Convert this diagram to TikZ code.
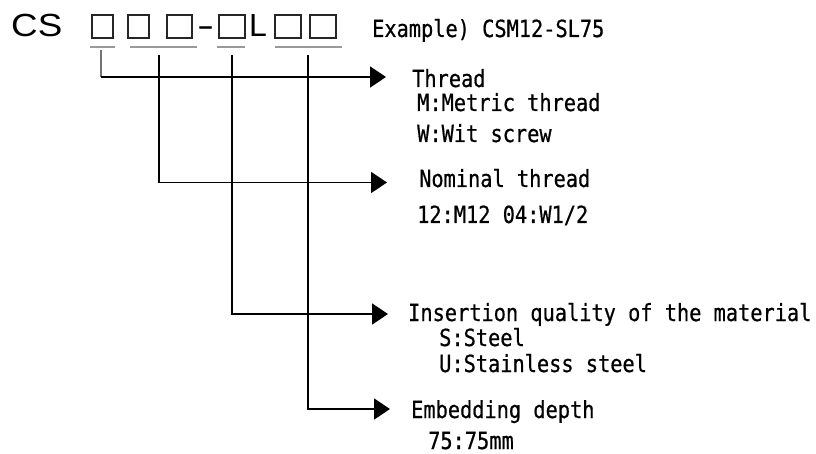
\documentclass[tikz,border=0pt]{standalone}
\usepackage{fontspec}
\setmainfont{Liberation Sans}
\newfontfamily\monofont[FakeStretch=0.86,FakeBold=0.6]{DejaVu Sans Mono}
\usetikzlibrary{arrows.meta}
\tikzset{
  lbl/.style={font=\monofont\fontsize{23.6}{25}\selectfont, anchor=base west, inner sep=0pt},
  big/.style={font=\fontsize{32}{34}\selectfont, anchor=base west, inner sep=0pt},
  slot/.style={draw=black!85, line width=2.4pt, inner sep=0pt, minimum height=23pt},
  uline/.style={draw=black!40, line width=2.4pt},
  conn/.style={draw=black, line width=1.5pt},
  arr/.style={conn, -{Triangle[length=16pt,width=21pt]}}
}
\begin{document}
\begin{tikzpicture}[x=1pt,y=-1pt]
\useasboundingbox[fill=white] (0,0) rectangle (816,454);
% code line
\node[big] (cs) at (11,37) {\scalebox{1.15}[1]{CS}};
\node[slot, minimum width=21pt] (b1) at (102.5,26.5) {};
\node[slot, minimum width=21pt] (b2) at (138.5,26.5) {};
\node[slot, minimum width=25pt] (b3) at (179.5,26.5) {};
\node[big] (dash) at (197,37) {\scalebox{1.6}[1]{-}};
\node[slot, minimum width=26pt] (b4) at (232,26.5) {};
\node[big] (ell) at (249,37) {L};
\node[slot, minimum width=26pt] (b5) at (288,26.5) {};
\node[slot, minimum width=26pt] (b6) at (323,26.5) {};
% underlines
\draw[uline] (90,47) -- (115,47);
\draw[uline] (130,47) -- (197,47);
\draw[uline] (217,47) -- (245,47);
\draw[uline] (275,47) -- (342,47);
% connector start points
\coordinate (s1) at (101,50);
\coordinate (c1) at (101,77);
\coordinate (s2) at (159,55);
\coordinate (s3) at (232,55);
\coordinate (s4) at (308,55);
% arrow tips
\coordinate (t1) at (386,77);
\coordinate (t2) at (387,182.5);
\coordinate (t3) at (388,314);
\coordinate (t4) at (390,409);
% labels
\node[lbl] (ex) at (372,37) {Example) CSM12-SL75};
\node[lbl] (thr) at (412,87) {Thread};
\node[lbl] (thr1) at (417,111) {M:Metric thread};
\node[lbl] (thr2) at (417,142) {W:Wit screw};
\node[lbl] (nom) at (419,187) {Nominal thread};
\node[lbl] (nom1) at (417,223) {12:M12 04:W1/2};
\node[lbl] (ins) at (408,321) {Insertion quality of the material};
\node[lbl] (ins1) at (439,346) {S:Steel};
\node[lbl] (ins2) at (439,372) {U:Stainless steel};
\node[lbl] (emb) at (411,418) {Embedding depth};
\node[lbl] (emb1) at (428,449) {75:75mm};
% connectors
\draw[conn, draw=black!55] (s1) -- (c1);
\draw[arr] (c1) -- (t1);
\draw[arr] (s2) |- (t2);
\draw[arr] (s3) |- (t3);
\draw[arr] (s4) |- (t4);
\end{tikzpicture}
\end{document}
